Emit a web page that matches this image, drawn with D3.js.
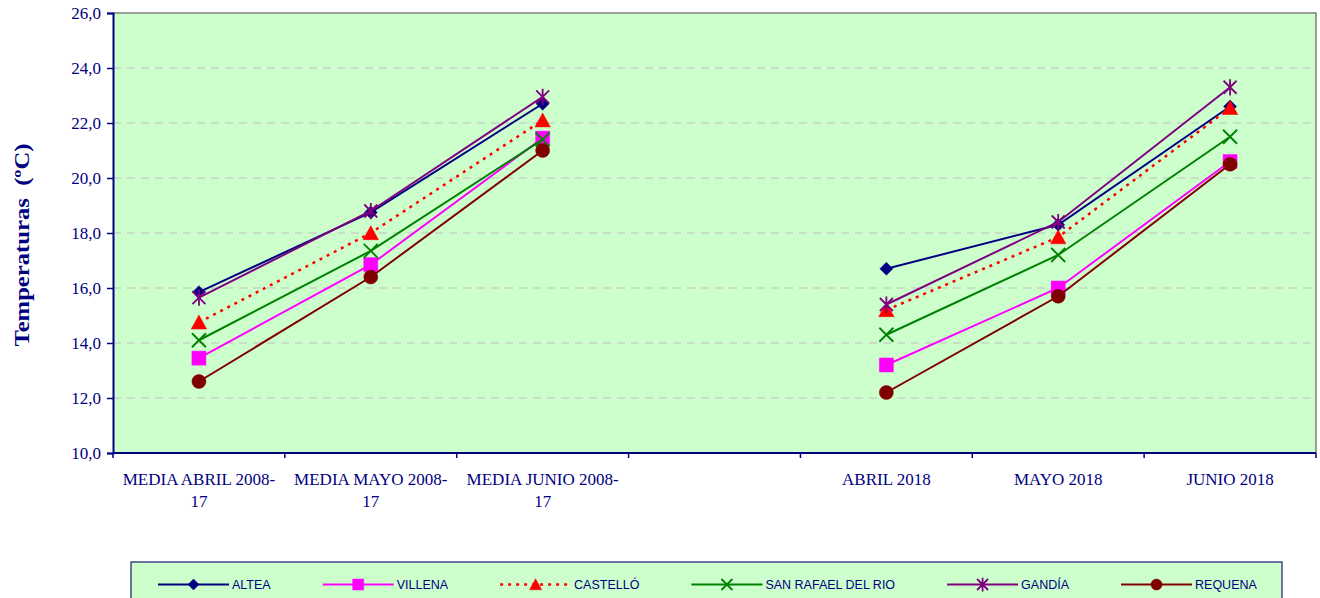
<!DOCTYPE html>
<html>
<head>
<meta charset="utf-8">
<script src="https://cdn.jsdelivr.net/npm/d3@7"></script>
<style>
  body { margin: 0; background: #fff; }
  text { white-space: pre; }
</style>
</head>
<body>
<div id="main"></div>
<script>
// categories (the 4th one is an empty gap slot)
var categories = ["MEDIA ABRIL 2008-17", "MEDIA MAYO 2008-17", "MEDIA JUNIO 2008-17", "", "ABRIL 2018", "MAYO 2018", "JUNIO 2018"];
var tickLabels = [["MEDIA ABRIL 2008-", "17"], ["MEDIA MAYO 2008-", "17"], ["MEDIA JUNIO 2008-", "17"], [""], ["ABRIL 2018"], ["MAYO 2018"], ["JUNIO 2018"]];
var yTicks = [10, 12, 14, 16, 18, 20, 22, 24, 26];

var seriesNames = ["ALTEA", "VILLENA", "CASTELLÓ", "SAN RAFAEL DEL RIO", "GANDÍA", "REQUENA"];
var altea     = [15.85, 18.75, 22.7, null, 16.7, 18.3, 22.6];
var villena   = [13.45, 16.85, 21.45, null, 13.2, 16.0, 20.6];
var castello  = [14.75, 18.0, 22.1, null, 15.2, 17.85, 22.55];
var sanRafael = [14.1, 17.35, 21.4, null, 14.3, 17.2, 21.5];
var gandia    = [15.65, 18.8, 22.95, null, 15.4, 18.4, 23.3];
var requena   = [12.6, 16.4, 21.0, null, 12.2, 15.7, 20.5];

var seriesValues = [altea, villena, castello, sanRafael, gandia, requena];
var seriesColors = ["#000080", "#FF00FF", "#FF0000", "#008000", "#800080", "#800000"];
var seriesMarkers = ["diamond", "square", "triangle", "cross", "star", "circle"];

var W = 1320, H = 598;
var plot = { left: 113, top: 13, right: 1316, bottom: 453 };
var navy = "#000080";
var serif = "'Liberation Serif', 'Times New Roman', serif";

var svg = d3.select("#main").append("svg")
  .attr("width", W)
  .attr("height", H);

var x = d3.scaleBand().domain(d3.range(categories.length)).range([plot.left, plot.right]).padding(0);
var y = d3.scaleLinear().domain([10, 26]).range([plot.bottom, plot.top]);

// plot background
svg.append("rect")
  .attr("x", plot.left).attr("y", plot.top)
  .attr("width", plot.right - plot.left).attr("height", plot.bottom - plot.top)
  .attr("fill", "#CCFFCC");

// grid lines
svg.append("g").selectAll("line")
  .data(yTicks.slice(1, -1))
  .enter().append("line")
  .attr("x1", plot.left).attr("x2", plot.right)
  .attr("y1", function(d) { return y(d); })
  .attr("y2", function(d) { return y(d); })
  .attr("stroke", "#C0C0C0")
  .attr("stroke-width", 1.2)
  .attr("stroke-dasharray", "8,6");

// top + right border (gray)
svg.append("path")
  .attr("d", "M" + plot.left + "," + plot.top + "H" + plot.right + "V" + plot.bottom)
  .attr("fill", "none")
  .attr("stroke", "#808080")
  .attr("stroke-width", 1.5);

// y axis
var yAxis = svg.append("g")
  .attr("transform", "translate(" + plot.left + ",0)")
  .call(d3.axisLeft(y).tickValues(yTicks).tickSize(6).tickPadding(6)
    .tickFormat(function(d) { return d.toFixed(1).replace(".", ","); }));
yAxis.attr("font-family", null).attr("font-size", null);
yAxis.select(".domain").attr("stroke", navy).attr("stroke-width", 2);
yAxis.selectAll(".tick line").attr("stroke", navy).attr("stroke-width", 1.5);
yAxis.selectAll(".tick text")
  .attr("fill", navy)
  .style("font-family", serif)
  .style("font-size", "17px");

// x axis: ticks between categories
var xAxis = svg.append("g").attr("transform", "translate(0," + plot.bottom + ")");
xAxis.append("line")
  .attr("x1", plot.left).attr("x2", plot.right)
  .attr("stroke", navy).attr("stroke-width", 2);
xAxis.selectAll(".xt")
  .data(d3.range(categories.length + 1))
  .enter().append("line")
  .attr("class", "xt")
  .attr("x1", function(i) { return plot.left + i * x.bandwidth(); })
  .attr("x2", function(i) { return plot.left + i * x.bandwidth(); })
  .attr("y1", 0).attr("y2", 5)
  .attr("stroke", navy).attr("stroke-width", 1.5);

xAxis.selectAll(".xl")
  .data(tickLabels)
  .enter().append("text")
  .attr("class", "xl")
  .attr("text-anchor", "middle")
  .attr("fill", navy)
  .style("font-family", serif)
  .style("font-size", "17px")
  .each(function(lines, i) {
    var t = d3.select(this);
    lines.forEach(function(l, k) {
      t.append("tspan")
        .attr("x", x(i) + x.bandwidth() / 2)
        .attr("y", 32 + k * 22)
        .text(l);
    });
  });

// y title
svg.append("text")
  .attr("transform", "translate(29,245) rotate(-90)")
  .attr("text-anchor", "middle")
  .attr("fill", navy)
  .style("font-family", serif)
  .attr("font-weight", "bold")
  .style("font-size", "21px")
  .attr("textLength", 203)
  .attr("lengthAdjust", "spacingAndGlyphs")
  .text("Temperaturas  (ºC)");

function markerPath(type, s) {
  var p = d3.path();
  if (type == "diamond") {
    p.moveTo(0, -s); p.lineTo(s, 0); p.lineTo(0, s); p.lineTo(-s, 0); p.closePath();
  } else if (type == "square") {
    p.rect(-s, -s, 2 * s, 2 * s);
  } else if (type == "triangle") {
    p.moveTo(0, -s * 1.05); p.lineTo(s * 1.1, s * 0.95); p.lineTo(-s * 1.1, s * 0.95); p.closePath();
  } else if (type == "circle") {
    p.arc(0, 0, s, 0, 2 * Math.PI);
  } else if (type == "cross") {
    p.moveTo(-s, -s); p.lineTo(s, s); p.moveTo(s, -s); p.lineTo(-s, s);
  } else if (type == "star") {
    p.moveTo(-s, -s); p.lineTo(s, s); p.moveTo(s, -s); p.lineTo(-s, s);
    p.moveTo(0, -s * 1.25); p.lineTo(0, s * 1.25);
  }
  return p.toString();
}
var markerSize = { diamond: 6.5, square: 7, triangle: 7, circle: 7, cross: 7, star: 6.5 };
var legendSize = { diamond: 5.5, square: 5.5, triangle: 5.5, circle: 5.5, cross: 5.5, star: 5.5 };

function drawMarker(g, type, color, s) {
  var open = (type == "cross" || type == "star");
  g.append("path")
    .attr("d", markerPath(type, s))
    .attr("fill", open ? "none" : color)
    .attr("stroke", color)
    .attr("stroke-width", open ? 1.8 : 0.5);
}

var line = d3.line()
  .defined(function(d) { return d != null; })
  .x(function(d, i) { return x(i) + x.bandwidth() / 2; })
  .y(function(d) { return y(d); });

var series = svg.append("g");
seriesValues.forEach(function(vals, si) {
  var g = series.append("g");
  g.append("path")
    .attr("d", line(vals))
    .attr("fill", "none")
    .attr("stroke", seriesColors[si])
    .attr("stroke-width", si == 2 ? 2.5 : 2)
    .attr("stroke-dasharray", si == 2 ? "3,5" : null);
  vals.forEach(function(v, i) {
    if (v == null) return;
    var m = g.append("g").attr("transform", "translate(" + (x(i) + x.bandwidth() / 2) + "," + y(v) + ")");
    drawMarker(m, seriesMarkers[si], seriesColors[si], markerSize[seriesMarkers[si]]);
  });
});

// legend
var legend = svg.append("g");
legend.append("rect")
  .attr("x", 131).attr("y", 562)
  .attr("width", 1151).attr("height", 50)
  .attr("fill", "#CCFFCC")
  .attr("stroke", "#1a1a6e")
  .attr("stroke-width", 1.2);

var lx = 158, ly = 584.5;
seriesNames.forEach(function(name, si) {
  var g = legend.append("g").attr("transform", "translate(" + lx + "," + ly + ")");
  g.append("line")
    .attr("x1", 0).attr("x2", 71)
    .attr("stroke", seriesColors[si])
    .attr("stroke-width", si == 2 ? 2.5 : 2)
    .attr("stroke-dasharray", si == 2 ? "3,5" : null);
  var m = g.append("g").attr("transform", "translate(35.5,0)");
  drawMarker(m, seriesMarkers[si], seriesColors[si], legendSize[seriesMarkers[si]]);
  var t = g.append("text")
    .attr("x", 74)
    .attr("y", 4.5)
    .attr("fill", navy)
    .style("font-family", "'Liberation Sans', Arial, sans-serif")
    .style("font-size", "12.5px")
    .text(name);
  lx += 74 + t.node().getComputedTextLength() + 52;
});
</script>
</body>
</html>
